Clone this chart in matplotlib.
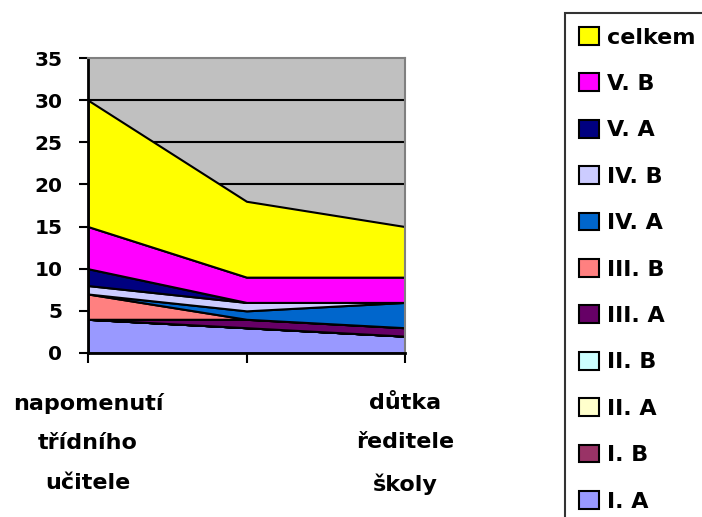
import matplotlib
matplotlib.use('Agg')
import matplotlib.pyplot as plt
from matplotlib.patches import Patch

plt.rcParams['font.family'] = ['DejaVu Sans']
plt.rcParams['font.weight'] = 'bold'

categories = ["napomenutí\ntřídního\nučitele", "", "důtka\nředitele\nškoly"]
series_names = ["I. A", "I. B", "II. A", "II. B", "III. A", "III. B",
                "IV. A", "IV. B", "V. A", "V. B", "celkem"]
i_a = [4, 3, 2]
i_b = [0, 0, 0]
ii_a = [0, 0, 0]
ii_b = [0, 0, 0]
iii_a = [0, 1, 1]
iii_b = [3, 0, 0]
iv_a = [0, 1, 3]
iv_b = [1, 1, 0]
v_a = [2, 0, 0]
v_b = [5, 3, 3]
celkem = [15, 9, 6]
colors = ["#9999FF", "#993366", "#FFFFCC", "#CCFFFF", "#660066", "#FF8080",
          "#0066CC", "#CCCCFF", "#000080", "#FF00FF", "#FFFF00"]

values = [i_a, i_b, ii_a, ii_b, iii_a, iii_b, iv_a, iv_b, v_a, v_b, celkem]
x = list(range(len(categories)))

fig = plt.figure(figsize=(7.02, 5.17), dpi=100)
ax = fig.add_axes([88/702, 1-353/517, (405-88)/702, (353-58)/517])
ax.set_facecolor("#C0C0C0")
ax.stackplot(x, *values, colors=colors, edgecolor="black", linewidth=1.5)

ax.set_xlim(0, 2)
ax.set_ylim(0, 35)
ax.set_yticks(range(0, 36, 5))
for y in range(5, 35, 5):
    ax.axhline(y, color="black", linewidth=1.5, zorder=0)
ax.set_axisbelow(True)
ax.set_xticks(x)
ax.set_xticklabels(categories, fontsize=16, fontweight='bold', linespacing=2.2)
ax.tick_params(axis='x', direction='out', length=7, width=1.5, pad=22)
ax.tick_params(axis='y', direction='out', length=6.5, width=1.5, pad=12, labelsize=14.5)
for lab in ax.get_yticklabels():
    lab.set_fontweight('bold')

ax.spines['left'].set_linewidth(2)
ax.spines['bottom'].set_linewidth(2)
ax.spines['top'].set_color("#808080")
ax.spines['right'].set_color("#808080")
ax.spines['top'].set_linewidth(1.5)
ax.spines['right'].set_linewidth(1.5)

handles = [Patch(facecolor=c, edgecolor="black", linewidth=1.5) for c in colors]
leg = fig.legend(handles[::-1], series_names[::-1], loc='upper left',
                 bbox_to_anchor=(565/702, 1-13/517),
                 prop={'weight': 'bold', 'size': 16},
                 frameon=True, fancybox=False, edgecolor="black",
                 handlelength=0.9, handleheight=0.86, handletextpad=0.36,
                 labelspacing=1.16, borderpad=0.63, borderaxespad=0)
leg.get_frame().set_linewidth(1.5)

plt.savefig("out.png", dpi=100)
